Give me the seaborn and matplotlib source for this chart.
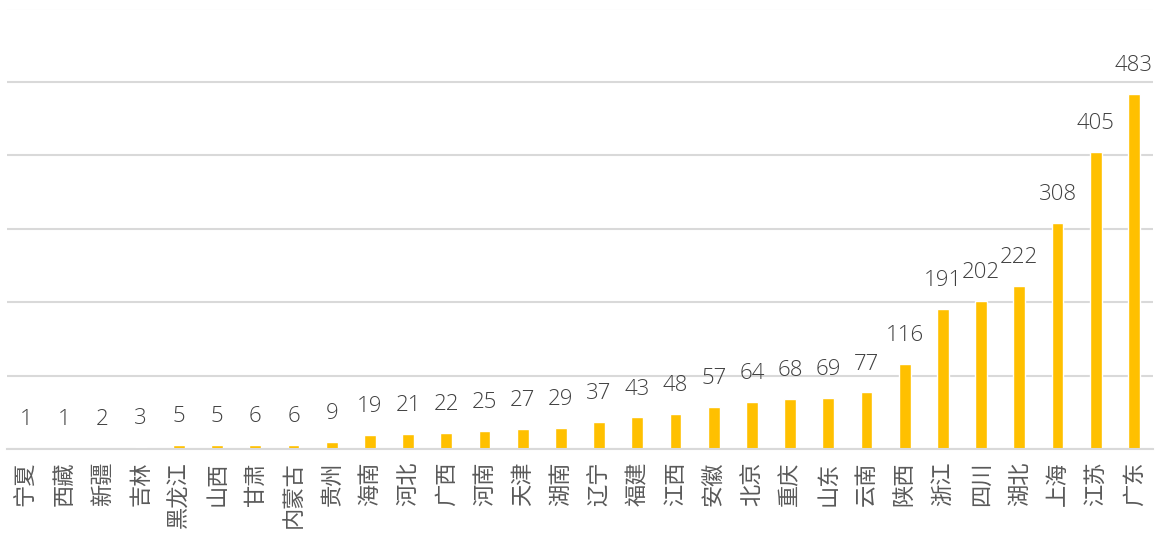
import matplotlib
matplotlib.use("Agg")
import matplotlib.pyplot as plt
import seaborn as sns
import pandas as pd

provinces = ["宁夏", "西藏", "新疆", "吉林", "黑龙江", "山西", "甘肃", "内蒙古", "贵州", "海南",
             "河北", "广西", "河南", "天津", "湖南", "辽宁", "福建", "江西", "安徽", "北京",
             "重庆", "山东", "云南", "陕西", "浙江", "四川", "湖北", "上海", "江苏", "广东"]
values = [1, 1, 2, 3, 5, 5, 6, 6, 9, 19,
          21, 22, 25, 27, 29, 37, 43, 48, 57, 64,
          68, 69, 77, 116, 191, 202, 222, 308, 405, 483]
y_ticks = [0, 100, 200, 300, 400, 500, 600]

sns.set_theme(style="white")
plt.rcParams['font.family'] = ['Noto Sans CJK SC', 'DejaVu Sans']

df = pd.DataFrame({"province": provinces, "value": values})

fig = plt.figure(figsize=(11.61, 5.37), dpi=100)
ax = fig.add_axes([7/1161, (537-449)/537, 1146/1161, 440.5/537])

sns.barplot(data=df, x="province", y="value", color="#FFC000", saturation=1,
            width=0.31, ax=ax, order=provinces)

ax.set_ylim(0, 600)
ax.set_xlim(-0.5, len(provinces) - 0.5)
ax.set_yticks(y_ticks)
ax.yaxis.grid(True, color="#D9D9D9", linewidth=1.5)
ax.set_axisbelow(True)
ax.tick_params(axis='y', left=False, labelleft=False)
ax.tick_params(axis='x', length=0, pad=9)
for s in ["left", "right", "top"]:
    ax.spines[s].set_visible(False)
ax.spines["bottom"].set_color("#D9D9D9")
ax.spines["bottom"].set_linewidth(1.5)
ax.set_xlabel("")
ax.set_ylabel("")

ax.set_xticks(range(len(provinces)))
ax.set_xticklabels(provinces, rotation=90, fontsize=16, color="#595959", va="top", ha="center")

for i, v in enumerate(values):
    ax.annotate(str(v), xy=(i, v), xytext=(0, 16.5), textcoords="offset points",
                ha="center", va="baseline", fontsize=16, color="#404040",
                family=["Open Sans", "DejaVu Sans"], fontweight="light")

fig.savefig("out.png", dpi=100)
